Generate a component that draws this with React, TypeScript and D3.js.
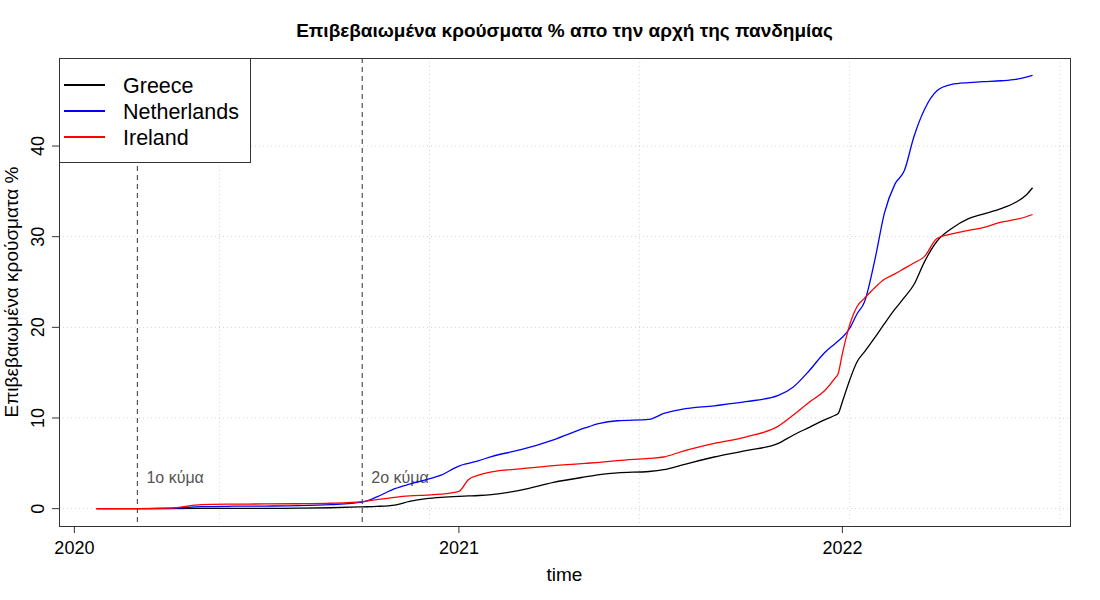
import React from 'react';
import * as d3 from 'd3';

// cumulative confirmed cases as % of population
const dates = [
  '2020-01-22', '2020-03-01', '2020-04-01', '2020-05-01', '2020-06-01', '2020-07-01',
  '2020-08-01', '2020-09-01', '2020-10-01', '2020-10-15', '2020-11-01', '2020-11-15',
  '2020-12-01', '2020-12-15', '2021-01-01', '2021-01-10', '2021-01-20', '2021-02-01',
  '2021-03-01', '2021-04-01', '2021-05-01', '2021-05-15', '2021-06-01', '2021-07-01',
  '2021-07-15', '2021-08-01', '2021-09-01', '2021-10-01', '2021-11-01', '2021-11-15',
  '2021-12-01', '2021-12-15', '2021-12-25', '2021-12-28', '2022-01-01', '2022-01-08',
  '2022-01-15', '2022-01-22', '2022-02-01', '2022-02-10', '2022-02-20', '2022-03-01',
  '2022-03-10', '2022-03-20', '2022-04-01', '2022-04-15', '2022-05-01', '2022-05-15',
  '2022-06-01', '2022-06-15', '2022-06-25', '2022-07-01',
];

const greece = [
  0, 0, 0.02, 0.03, 0.04, 0.04,
  0.05, 0.1, 0.2, 0.25, 0.4, 0.8,
  1.1, 1.25, 1.36, 1.4, 1.45, 1.55,
  2.05, 2.9, 3.5, 3.75, 3.95, 4.1,
  4.3, 4.8, 5.7, 6.4, 7.2, 8.1,
  9.0, 9.8, 10.3, 10.5, 11.8, 14.2,
  16.2, 17.3, 18.9, 20.4, 22.0, 23.3,
  24.7, 27.2, 29.5, 30.9, 32.0, 32.5,
  33.1, 33.8, 34.6, 35.4,
];

const netherlands = [
  0, 0, 0.03, 0.22, 0.27, 0.29,
  0.33, 0.45, 0.72, 1.3, 2.2, 2.7,
  3.2, 3.7, 4.7, 5.0, 5.3, 5.75,
  6.5, 7.6, 8.9, 9.4, 9.7, 9.85,
  10.5, 10.95, 11.35, 11.8, 12.5, 13.4,
  15.3, 17.2, 18.2, 18.5, 18.9, 19.9,
  21.5, 22.8, 27.5, 32.6, 35.8, 37.3,
  41.0, 44.0, 46.1, 46.8, 47.0, 47.1,
  47.2, 47.35, 47.6, 47.8,
];

const ireland = [
  0, 0, 0.05, 0.45, 0.5, 0.52,
  0.54, 0.6, 0.78, 1.0, 1.25, 1.4,
  1.5, 1.6, 1.9, 3.2, 3.7, 4.05,
  4.4, 4.75, 5.0, 5.1, 5.3, 5.55,
  5.7, 6.3, 7.2, 7.9, 9.1, 10.3,
  11.8, 13.0, 14.4, 14.9, 17.1, 20.3,
  22.3, 23.2, 24.4, 25.3, 25.9, 26.5,
  27.1, 27.8, 29.8, 30.3, 30.7, 31.0,
  31.6, 31.9, 32.2, 32.45,
];

const seriesNames = ['Greece', 'Netherlands', 'Ireland'];
const seriesColors = ['black', 'blue', 'red'];

const yearTicks = ['2020-01-01', '2021-01-01', '2022-01-01'];
const yearLabels = ['2020', '2021', '2022'];
const yTicks = [0, 10, 20, 30, 40];
// grid() in R puts the vertical lines every 200 days
const gridDates = ['2020-05-18', '2020-12-04', '2021-06-22', '2022-01-08', '2022-07-27'];

const waveDates = ['2020-03-01', '2020-10-01'];
const waveLabels = ['1ο κύμα', '2ο κύμα'];

const width = 1100;
const height = 600;
const margin = { top: 58, right: 30, bottom: 74, left: 59 };
const font = '"Liberation Sans", Arial, Helvetica, sans-serif';

const App = () => {
  const parse = d3.utcParse('%Y-%m-%d');
  const xs = dates.map((d) => parse(d));

  // R style axis range: data range plus 4% on each side
  const [x0, x1] = d3.extent(xs);
  const padX = (x1.getTime() - x0.getTime()) * 0.04;
  const x = d3.scaleUtc()
    .domain([new Date(x0.getTime() - padX), new Date(x1.getTime() + padX)])
    .range([margin.left, width - margin.right]);

  const yMax = d3.max([...greece, ...netherlands, ...ireland]);
  const padY = yMax * 0.04;
  const y = d3.scaleLinear()
    .domain([-padY, yMax + padY])
    .range([height - margin.bottom, margin.top]);

  const line = d3.line()
    .x((d) => x(d[0]))
    .y((d) => y(d[1]))
    .curve(d3.curveMonotoneX);

  const series = [greece, netherlands, ireland].map((vals) => xs.map((d, i) => [d, vals[i]]));

  const left = margin.left;
  const right = width - margin.right;
  const top = margin.top;
  const bottom = height - margin.bottom;

  return (
    <svg width={width} height={height} style={{ position: 'absolute', left: 0, top: 0 }} fontFamily={font}>
      <rect width={width} height={height} fill="white" />

      {/* grid */}
      {gridDates.map((d) => (
        <line key={d} x1={x(parse(d))} x2={x(parse(d))} y1={top} y2={bottom}
          stroke="#d3d3d3" strokeWidth={1} strokeDasharray="1,3" />
      ))}
      {yTicks.map((t) => (
        <line key={t} x1={left} x2={right} y1={y(t)} y2={y(t)}
          stroke="#d3d3d3" strokeWidth={1} strokeDasharray="1,3" />
      ))}

      {/* wave markers */}
      {waveDates.map((d, i) => (
        <g key={d}>
          <line x1={x(parse(d))} x2={x(parse(d))} y1={top} y2={bottom}
            stroke="#555" strokeWidth={1.2} strokeDasharray="5,4" />
          <text x={x(parse(d)) + 9} y={y(3.5)} dy="0.35em" fontSize={16} fill="#555">{waveLabels[i]}</text>
        </g>
      ))}

      {/* series */}
      {series.map((s, i) => (
        <path key={seriesNames[i]} d={line(s)} fill="none" stroke={seriesColors[i]} strokeWidth={1.3} />
      ))}

      {/* box */}
      <rect x={left + 0.5} y={top + 0.5} width={right - left} height={bottom - top}
        fill="none" stroke="#333" strokeWidth={1} />

      {/* x axis */}
      {yearTicks.map((d, i) => (
        <g key={d} transform={`translate(${x(parse(d))},0)`}>
          <line y1={bottom} y2={bottom + 7} stroke="#333" />
          <text y={554} textAnchor="middle" fontSize={18}>{yearLabels[i]}</text>
        </g>
      ))}
      <text x={(left + right) / 2} y={581} textAnchor="middle" fontSize={19}>time</text>

      {/* y axis */}
      {yTicks.map((t) => (
        <g key={t} transform={`translate(0,${y(t)})`}>
          <line x1={left - 7} x2={left} stroke="#333" />
          <text transform="translate(44,0) rotate(-90)" textAnchor="middle" fontSize={18}>{t}</text>
        </g>
      ))}
      <text transform={`translate(17.5,${(top + bottom) / 2}) rotate(-90)`} textAnchor="middle" fontSize={19}>
        Επιβεβαιωμένα κρούσματα %
      </text>

      {/* title */}
      <text x={(left + right) / 2} y={37} textAnchor="middle" fontSize={19} fontWeight="bold">
        Επιβεβαιωμένα κρούσματα % απο την αρχή της πανδημίας
      </text>

      {/* legend */}
      <rect x={left + 0.5} y={top + 0.5} width={191} height={104} fill="white" stroke="#333" />
      {seriesNames.map((n, i) => (
        <g key={n} transform={`translate(0,${top + 27 + i * 26})`}>
          <line x1={64} x2={105} stroke={seriesColors[i]} strokeWidth={2} />
          <text x={123} dy="0.35em" fontSize={21.5}>{n}</text>
        </g>
      ))}
    </svg>
  );
};

export default App;
